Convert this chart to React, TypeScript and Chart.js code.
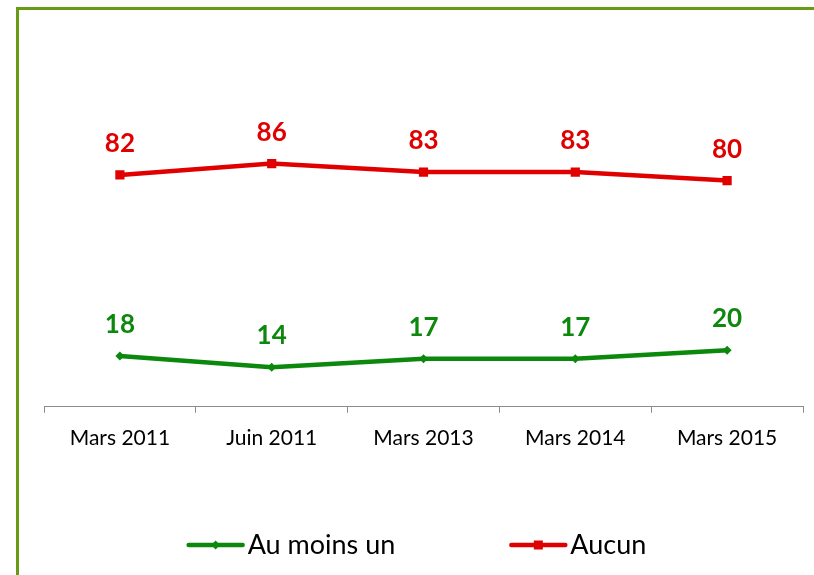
import React, { useEffect, useRef } from 'react';
import { Chart, registerables } from 'chart.js';

Chart.register(...registerables);

const categories = ['Mars 2011', 'Juin 2011', 'Mars 2013', 'Mars 2014', 'Mars 2015'];
const auMoinsUn = [18, 14, 17, 17, 20];
const aucun = [82, 86, 83, 83, 80];
const seriesNames = ['Au moins un', 'Aucun'];

const GREEN = '#0c880c';
const RED = '#e00000';
const AXIS = '#8c8c8c';
const FONT = 'Lato';

const valueLabels = {
  id: 'valueLabels',
  afterDatasetsDraw(chart: any) {
    const ctx = chart.ctx;
    chart.data.datasets.forEach((ds: any, i: number) => {
      const meta = chart.getDatasetMeta(i);
      ctx.save();
      ctx.font = `bold 26px ${FONT}`;
      ctx.fillStyle = ds.borderColor;
      ctx.textAlign = 'center';
      ctx.textBaseline = 'alphabetic';
      meta.data.forEach((pt: any, j: number) => {
        ctx.fillText(String(ds.data[j]), pt.x, pt.y - 23);
      });
      ctx.restore();
    });
  },
};

const lineLegend = {
  id: 'lineLegend',
  afterDraw(chart: any) {
    const ctx = chart.ctx;
    const y = 535;
    const lineLen = 54;
    const textGap = 5;
    const itemGap = 116;
    ctx.save();
    ctx.font = `27px ${FONT}`;
    const items = chart.data.datasets.map((ds: any) => ({
      ds,
      w: lineLen + textGap + ctx.measureText(ds.label).width,
    }));
    const total = items.reduce((s: number, it: any) => s + it.w, 0) + itemGap * (items.length - 1);
    let x = (chart.width - total) / 2 + 1;
    items.forEach(({ ds, w }: any) => {
      ctx.strokeStyle = ds.borderColor;
      ctx.lineWidth = 4.5;
      ctx.lineCap = 'round';
      ctx.beginPath();
      ctx.moveTo(x, y);
      ctx.lineTo(x + lineLen, y);
      ctx.stroke();
      ctx.fillStyle = ds.borderColor;
      const cx = x + lineLen / 2;
      if (ds.pointStyle === 'rect') {
        ctx.fillRect(cx - 4.5, y - 4.5, 9, 9);
      } else {
        ctx.beginPath();
        ctx.moveTo(cx, y - 4.5);
        ctx.lineTo(cx + 4.5, y);
        ctx.lineTo(cx, y + 4.5);
        ctx.lineTo(cx - 4.5, y);
        ctx.closePath();
        ctx.fill();
      }
      ctx.fillStyle = '#000';
      ctx.textBaseline = 'middle';
      ctx.textAlign = 'left';
      ctx.fillText(ds.label, x + lineLen + textGap, y);
      x += w + itemGap;
    });
    ctx.restore();
  },
};

export default function App() {
  const ref = useRef<HTMLCanvasElement | null>(null);

  useEffect(() => {
    if (!ref.current) return;
    const chart = new Chart(ref.current, {
      type: 'line',
      data: {
        labels: categories,
        datasets: [
          {
            label: seriesNames[0],
            data: auMoinsUn,
            borderColor: GREEN,
            backgroundColor: GREEN,
            borderWidth: 4.5,
            pointStyle: 'rectRot',
            pointRadius: 4.5,
            pointBorderWidth: 0,
            tension: 0,
          },
          {
            label: seriesNames[1],
            data: aucun,
            borderColor: RED,
            backgroundColor: RED,
            borderWidth: 4.5,
            pointStyle: 'rect',
            pointRadius: 6.5,
            pointBorderWidth: 0,
            tension: 0,
          },
        ],
      },
      options: {
        animation: false,
        responsive: true,
        maintainAspectRatio: false,
        layout: { padding: { left: 25, right: 11, top: 114, bottom: 111 } },
        plugins: {
          legend: { display: false },
          tooltip: { enabled: false },
        },
        scales: {
          x: {
            offset: true,
            grid: {
              offset: true,
              drawOnChartArea: false,
              drawTicks: true,
              tickLength: 6,
              color: AXIS,
            },
            border: { display: true, color: AXIS, width: 1 },
            ticks: { color: '#000', font: { family: FONT, size: 21 }, padding: 13 },
          },
          y: { display: false, min: 0, max: 100 },
        },
      },
      plugins: [valueLabels, lineLegend],
    });
    return () => chart.destroy();
  }, []);

  return (
    <div
      style={{
        position: 'absolute',
        left: 16,
        top: 7,
        width: 795,
        height: 565,
        borderLeft: '3px solid #659c13',
        borderTop: '3px solid #659c13',
        background: '#fff',
      }}
    >
      <canvas ref={ref} />
    </div>
  );
}
